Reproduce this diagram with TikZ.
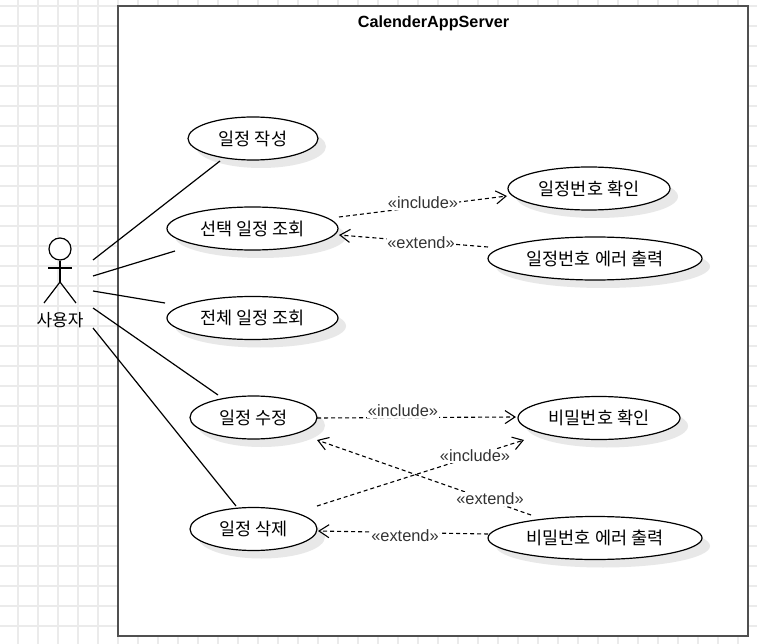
\documentclass[tikz,border=0pt]{standalone}
\usepackage{fontspec}
\setmainfont{Noto Sans CJK KR}
\newfontfamily\latinfont{Liberation Sans}
\usetikzlibrary{shapes.geometric,arrows.meta,shadows}
\definecolor{gridc}{HTML}{EBEBEB}
\definecolor{boxc}{HTML}{505050}
\tikzset{
  usecase/.style={ellipse,draw=black,fill=white,line width=1.2pt,inner sep=0pt,
    font=\fontsize{17.5}{20}\selectfont,
    drop shadow={shadow xshift=8pt,shadow yshift=-8pt,fill=black!9,opacity=1}},
  assoc/.style={draw=black,line width=1.2pt},
  dep/.style={draw=black,line width=1.1pt,dash pattern=on 4pt off 3pt,
    -{Straight Barb[length=10pt,width=13pt,line width=1.1pt]}},
  deplabel/.style={fill=white,inner sep=0.5pt,text=black!80,font=\latinfont\fontsize{16.4}{18}\selectfont},
  actorline/.style={draw=black,line width=1.2pt}
}
\begin{document}
\begin{tikzpicture}[x=1pt,y=-1pt]
\useasboundingbox (0,0) rectangle (757,644);
\fill[white] (0,0) rectangle (757,644);
\foreach \gx in {17.7,37.7,...,757} \draw[gridc,line width=1.8pt] (\gx,0) -- (\gx,644);
\foreach \gy in {5.7,25.7,...,640} \draw[gridc,line width=1.8pt] (0,\gy) -- (757,\gy);
\node[draw=boxc,fill=white,line width=2pt,minimum width=630pt,minimum height=630pt,inner sep=0pt,anchor=center] (sys) at (432.7,320.7) {};
\node[font=\latinfont\bfseries\fontsize{16.2}{18}\selectfont] (title) at (433.5,23) {CalenderAppServer};

\node[usecase,minimum width=130pt,minimum height=43pt] (uc1) at (253,138.5) {일정 작성};
\node[usecase,minimum width=171pt,minimum height=43pt] (uc2) at (252.5,228.5) {선택 일정 조회};
\node[usecase,minimum width=171pt,minimum height=43pt] (uc3) at (252.5,318) {전체 일정 조회};
\node[usecase,minimum width=127pt,minimum height=43pt] (uc4) at (253.5,417.5) {일정 수정};
\node[usecase,minimum width=127pt,minimum height=43pt] (uc5) at (253.5,529) {일정 삭제};
\node[usecase,minimum width=162pt,minimum height=43pt] (uc6) at (589,188.5) {일정번호 확인};
\node[usecase,minimum width=214pt,minimum height=43pt] (uc7) at (595,258.5) {일정번호 에러 출력};
\node[usecase,minimum width=162pt,minimum height=43pt] (uc8) at (599,418) {비밀번호 확인};
\node[usecase,minimum width=214pt,minimum height=43pt] (uc9) at (595,538) {비밀번호 에러 출력};

% actor
\node[circle,draw=black,line width=1.2pt,fill=white,minimum size=22pt,inner sep=0pt] (head) at (60,249) {};
\coordinate (hip) at (60,282);
\coordinate (armL) at (48,268);
\coordinate (armR) at (72,268);
\coordinate (footL) at (44,303);
\coordinate (footR) at (76,303);
\draw[actorline] (head.south) -- (hip);
\draw[actorline] (armL) -- (armR);
\draw[actorline] (footL) -- (hip) -- (footR);
\node[font=\fontsize{17}{20}\selectfont] (actorlabel) at (60,320.5) {사용자};

% associations
\coordinate (a1) at (93,260); \coordinate (e1) at (220,161);
\coordinate (a2) at (93,276); \coordinate (e2) at (175,251);
\coordinate (a3) at (93,291); \coordinate (e3) at (165,303);
\coordinate (a4) at (93,308); \coordinate (e4) at (218,395);
\coordinate (a5) at (93,328); \coordinate (e5) at (236,506);
\draw[assoc] (a1) -- (e1);
\draw[assoc] (a2) -- (e2);
\draw[assoc] (a3) -- (e3);
\draw[assoc] (a4) -- (e4);
\draw[assoc] (a5) -- (e5);

% dependencies
\coordinate (d1s) at (339,217); \coordinate (d1e) at (507,196);
\coordinate (d2s) at (488,247); \coordinate (d2e) at (339,235);
\coordinate (d3s) at (317,418); \coordinate (d3e) at (516,417);
\coordinate (d4s) at (317,506); \coordinate (d4e) at (524,440);
\coordinate (d5s) at (531,515); \coordinate (d5e) at (317,440);
\coordinate (d6s) at (488,534); \coordinate (d6e) at (318,531);
\draw[dep] (d1s) -- (d1e);
\draw[dep] (d2s) -- (d2e);
\draw[dep] (d3s) -- (d3e);
\draw[dep] (d4s) -- (d4e);
\draw[dep] (d5s) -- (d5e);
\draw[dep] (d6s) -- (d6e);
\node[deplabel] (l1) at (423,203) {«include»};
\node[deplabel] (l2) at (421,243) {«extend»};
\node[deplabel] (l3) at (403,411) {«include»};
\node[deplabel] (l4) at (475,456) {«include»};
\node[deplabel] (l5) at (490,499) {«extend»};
\node[deplabel] (l6) at (405,536) {«extend»};
\end{tikzpicture}
\end{document}
